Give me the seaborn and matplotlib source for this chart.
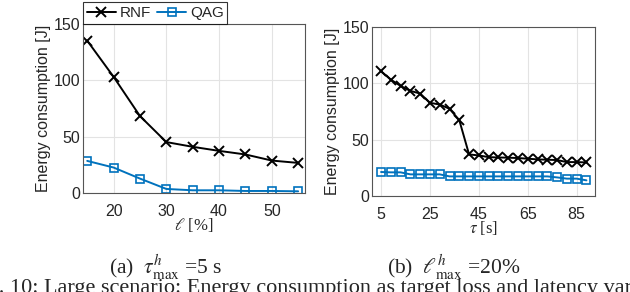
import numpy as np
import pandas as pd
from matplotlib import pyplot as plt
import seaborn as sns

# dados
loss = [15, 20, 25, 30, 35, 40, 45, 50, 55]
rnf_loss = [135.2, 103.1, 68.3, 45.2, 41.0, 37.4, 34.2, 28.8, 26.7]
qag_loss = [28.5, 22.6, 12.8, 3.6, 2.4, 2.4, 1.8, 1.8, 1.5]

lat = [5, 9, 13, 17, 21, 25, 29, 33, 37, 41, 45, 49, 53, 57, 61, 65, 69, 73, 77, 81, 85, 89]
rnf_lat = [110.7, 103.3, 97.7, 93.3, 90.9, 82.7, 81.2, 77.4, 67.3, 36.9, 36.0, 34.5,
           34.2, 34.0, 33.7, 33.1, 32.5, 32.2, 31.9, 30.1, 30.1, 29.8]
qag_lat = [21.3, 21.0, 21.0, 19.2, 19.2, 19.2, 19.2, 17.4, 17.4, 17.4, 17.4, 17.4,
           17.4, 17.4, 17.4, 17.4, 17.4, 17.4, 16.5, 15.4, 15.4, 13.9]

sns.set_style("whitegrid", {"axes.edgecolor": "#555555", "grid.color": "#e3e3e3"})
plt.rcParams["font.family"] = ["Liberation Sans", "DejaVu Sans"]
plt.rcParams["mathtext.fontset"] = "stix"

blue = "#0072BD"
fig = plt.figure(figsize=(6.3, 2.92), dpi=100)
ax1 = fig.add_axes([83 / 630, 1 - 193 / 292, 222 / 630, 169 / 292])
ax2 = fig.add_axes([372 / 630, 1 - 196 / 292, 223 / 630, 169 / 292])

df1 = pd.DataFrame({"x": loss, "RNF": rnf_loss, "QAG": qag_loss})
df2 = pd.DataFrame({"x": lat, "RNF": rnf_lat, "QAG": qag_lat})

for ax, df in [(ax1, df1), (ax2, df2)]:
    sns.lineplot(data=df, x="x", y="RNF", ax=ax, color="black", marker="x",
                 markersize=6.5, markeredgecolor="black", markeredgewidth=1.4,
                 linewidth=1.4, label="RNF")
    sns.lineplot(data=df, x="x", y="QAG", ax=ax, color=blue, marker="s",
                 markersize=5.5, markerfacecolor="none", markeredgecolor=blue,
                 markeredgewidth=1.2, linewidth=1.4, label="QAG")
    ax.set_ylim(0, 150)
    ax.set_yticks([0, 50, 100, 150])
    ax.set_ylabel("Energy consumption [J]", fontsize=11.5, color="#262626", labelpad=2)
    ax.tick_params(labelsize=11.5, colors="#262626", length=0)
    ax.tick_params(axis="x", pad=8)
    ax.tick_params(axis="y", pad=2)
    for s in ax.spines.values():
        s.set_linewidth(0.8)

ax1.set_xlim(14.2, 56.3)
ax1.set_xticks([20, 30, 40, 50])
ax1.set_xlabel(r"$\ell$ [%]", fontsize=12, family="Liberation Serif", labelpad=-2)
ax2.set_xlim(1.3, 92.5)
ax2.set_xticks([5, 25, 45, 65, 85])
ax2.set_xlabel(r"$\tau$ [s]", fontsize=12, family="Liberation Serif", labelpad=-2)

ax2.get_legend().remove()
leg = ax1.legend(loc="lower left", bbox_to_anchor=(0, 1), ncol=2, frameon=True,
                 fancybox=False, edgecolor="black", fontsize=11, borderaxespad=0,
                 handlelength=1.9, handletextpad=0.25, columnspacing=0.4,
                 borderpad=0.25)
leg.get_frame().set_linewidth(0.8)

fig.text(166 / 630, 1 - 267 / 292, r"(a)  $\tau^h_{\max}$ =5 s", ha="center", va="center",
         fontsize=15.5, family="Liberation Serif")
fig.text(454 / 630, 1 - 267 / 292, r"(b)  $\ell^h_{\max}$ =20%", ha="center", va="center",
         fontsize=15.5, family="Liberation Serif")
fig.text(-31 / 630, 1 - 289 / 292,
         "Fig. 10: Large scenario: Energy consumption as target loss and latency variations.",
         ha="left", va="center", fontsize=16, family="Liberation Serif")

plt.savefig("out.png", dpi=100)
